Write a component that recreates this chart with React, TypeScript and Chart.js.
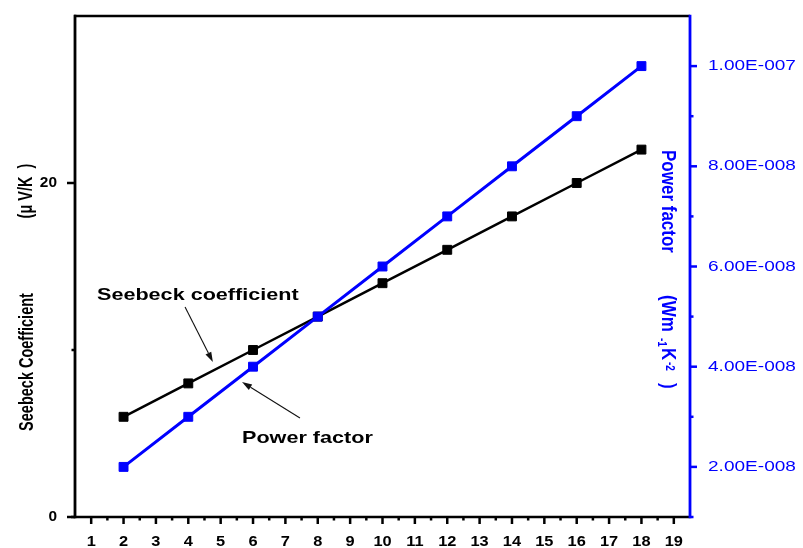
import React, { useEffect, useRef } from "react";
import { Chart, registerables } from "chart.js";

Chart.register(...registerables);

// ---- data ----
const xValues = [2, 4, 6, 8, 10, 12, 14, 16, 18];
const seebeck = [6, 8, 10, 12, 14, 16, 18, 20, 22];
const powerFactor = [2e-8, 3e-8, 4e-8, 5e-8, 6e-8, 7e-8, 8e-8, 9e-8, 1e-7];

const xTicks = [1, 2, 3, 4, 5, 6, 7, 8, 9, 10, 11, 12, 13, 14, 15, 16, 17, 18, 19];
const leftTicks = [0, 20];
const leftMinor = [10];
const rightTicks = [2e-8, 4e-8, 6e-8, 8e-8, 1e-7];
const rightTickLabels = ["2.00E-008", "4.00E-008", "6.00E-008", "8.00E-008", "1.00E-007"];
const rightMinor = [1e-8, 3e-8, 5e-8, 7e-8, 9e-8];

const annotations = [
  { text: "Seebeck coefficient", x: 1.18, y: 13.29, from: [3.9, 12.57], to: [4.76, 9.28] },
  { text: "Power factor", x: 5.66, y: 4.73, from: [7.45, 5.93], to: [5.66, 8.08] },
];

const FONT = "'Liberation Sans', Arial, Helvetica, sans-serif";
const BLUE = "#0000ff";

function txt(ctx, s, x, y, font, color, align, baseline, sx = 1, rot = 0) {
  ctx.save();
  ctx.translate(x, y);
  ctx.scale(sx, 1);
  if (rot) ctx.rotate(rot);
  ctx.font = font;
  ctx.fillStyle = color;
  ctx.textAlign = align;
  ctx.textBaseline = baseline;
  ctx.fillText(s, 0, 0);
  ctx.restore();
}

function line(ctx, x1, y1, x2, y2, color, w) {
  ctx.beginPath();
  ctx.moveTo(x1, y1);
  ctx.lineTo(x2, y2);
  ctx.strokeStyle = color;
  ctx.lineWidth = w;
  ctx.stroke();
}

const axesPlugin = {
  id: "customAxes",
  afterDraw(chart) {
    const { ctx, chartArea } = chart;
    const { left, right, top, bottom } = chartArea;
    const xs = chart.scales.x;
    const yl = chart.scales.y;
    const yr = chart.scales.y1;
    ctx.save();
    ctx.lineCap = "butt";

    // frame
    line(ctx, left - 1, top, right, top, "#000", 2.5);
    line(ctx, left - 4, bottom, right, bottom, "#000", 2.5);
    line(ctx, left, top - 1.2, left, bottom + 1.2, "#000", 2.8);
    line(ctx, right, top - 1.2, right, bottom + 1.2, BLUE, 2.8);

    // x ticks
    xTicks.forEach((v, i) => {
      const px = xs.getPixelForValue(v);
      line(ctx, px, bottom, px, bottom + 7, "#000", 2.5);
      txt(ctx, String(v), px, bottom + 25, `bold 14px ${FONT}`, "#000", "center", "middle", 1.17);
      if (i < xTicks.length - 1) {
        const mx = xs.getPixelForValue((v + xTicks[i + 1]) / 2);
        line(ctx, mx, bottom, mx, bottom + 3.5, "#000", 2.5);
      }
    });

    // left ticks
    leftTicks.forEach((v) => {
      const py = yl.getPixelForValue(v);
      line(ctx, left - 8, py, left, py, "#000", 2.5);
      txt(ctx, String(v), 57, py, `bold 14px ${FONT}`, "#000", "right", "middle", 1.1);
    });
    leftMinor.forEach((v) => {
      const py = yl.getPixelForValue(v);
      line(ctx, left - 3.5, py, left, py, "#000", 2.5);
    });

    // right ticks
    rightTicks.forEach((v, i) => {
      const py = yr.getPixelForValue(v);
      line(ctx, right, py, right + 7, py, BLUE, 2.5);
      txt(ctx, rightTickLabels[i], 708, py, `15px ${FONT}`, BLUE, "left", "middle", 1.27);
    });
    rightMinor.forEach((v) => {
      const py = yr.getPixelForValue(v);
      line(ctx, right, py, right + 3.5, py, BLUE, 2.5);
    });

    // left axis title (rotated CCW)
    txt(ctx, "Seebeck Coefficient", 33, 362, `bold 14.5px ${FONT}`, "#000", "center", "alphabetic", 1.35, -Math.PI / 2);
    txt(ctx, "(\u03bc V/K  )", 32, 191, `bold 14.5px ${FONT}`, "#000", "center", "alphabetic", 1.35, -Math.PI / 2);

    // right axis title (rotated CW)
    const bx = right - 28;
    const rf = `bold 17px ${FONT}`;
    const sf = `bold 10px ${FONT}`;
    txt(ctx, "Power factor", bx, 150, rf, BLUE, "left", "alphabetic", 1.23, Math.PI / 2);
    const pieces = [
      { s: "(Wm", along: 0, up: 0, f: rf },
      { s: "-1", along: 43, up: -3.6, f: sf },
      { s: "K", along: 53, up: 0, f: rf },
      { s: "-2", along: 67, up: 2.9, f: sf },
      { s: ")", along: 88, up: 0, f: rf },
    ];
    pieces.forEach((p) => {
      ctx.save();
      ctx.translate(bx, 295);
      ctx.scale(1.23, 1);
      ctx.rotate(Math.PI / 2);
      ctx.font = p.f;
      ctx.fillStyle = BLUE;
      ctx.textAlign = "left";
      ctx.textBaseline = "alphabetic";
      ctx.fillText(p.s, p.along, -p.up);
      ctx.restore();
    });

    // annotations
    annotations.forEach((a) => {
      const tx = xs.getPixelForValue(a.x);
      const ty = yl.getPixelForValue(a.y);
      txt(ctx, a.text, tx, ty, `bold 17px ${FONT}`, "#000", "left", "middle", 1.27);
      const x1 = xs.getPixelForValue(a.from[0]);
      const y1 = yl.getPixelForValue(a.from[1]);
      const x2 = xs.getPixelForValue(a.to[0]);
      const y2 = yl.getPixelForValue(a.to[1]);
      const ang = Math.atan2(y2 - y1, x2 - x1);
      const hl = 10, hw = 3.2;
      const bxh = x2 - hl * Math.cos(ang);
      const byh = y2 - hl * Math.sin(ang);
      line(ctx, x1, y1, bxh, byh, "#111", 1.1);
      ctx.beginPath();
      ctx.moveTo(x2, y2);
      ctx.lineTo(bxh + hw * Math.sin(ang), byh - hw * Math.cos(ang));
      ctx.lineTo(bxh - hw * Math.sin(ang), byh + hw * Math.cos(ang));
      ctx.closePath();
      ctx.fillStyle = "#111";
      ctx.fill();
    });
    ctx.restore();
  },
};

export default function App() {
  const ref = useRef<HTMLCanvasElement | null>(null);
  useEffect(() => {
    if (!ref.current) return;
    const chart = new Chart(ref.current, {
      type: "line",
      data: {
        datasets: [
          {
            label: "Power factor",
            data: xValues.map((x, i) => ({ x, y: powerFactor[i] })),
            yAxisID: "y1",
            borderColor: BLUE,
            backgroundColor: BLUE,
            borderWidth: 3,
            pointStyle: "rect",
            pointRadius: 6.3,
            pointBorderWidth: 1,
            pointBorderColor: BLUE,
            pointBackgroundColor: BLUE,
            tension: 0,
            order: 0,
          },
          {
            label: "Seebeck coefficient",
            data: xValues.map((x, i) => ({ x, y: seebeck[i] })),
            yAxisID: "y",
            borderColor: "#000",
            backgroundColor: "#000",
            borderWidth: 2.5,
            pointStyle: "rect",
            pointRadius: 6.3,
            pointBorderWidth: 1,
            pointBorderColor: "#000",
            pointBackgroundColor: "#000",
            tension: 0,
            order: 1,
          },
        ],
      },
      options: {
        responsive: false,
        animation: false,
        layout: { padding: { left: 75, top: 16, right: 113, bottom: 31 } },
        plugins: { legend: { display: false }, tooltip: { enabled: false } },
        scales: {
          x: { type: "linear", min: 0.5, max: 19.5, display: false },
          y: { type: "linear", position: "left", min: 0, max: 30, display: false },
          y1: { type: "linear", position: "right", min: 1e-8, max: 1.1e-7, display: false },
        },
      },
      plugins: [axesPlugin],
    });
    return () => chart.destroy();
  }, []);
  return (
    <div style={{ position: "fixed", left: 0, top: 0, width: 803, height: 548, background: "#fff" }}>
      <canvas ref={ref} width={803} height={548} style={{ display: "block" }} />
    </div>
  );
}
